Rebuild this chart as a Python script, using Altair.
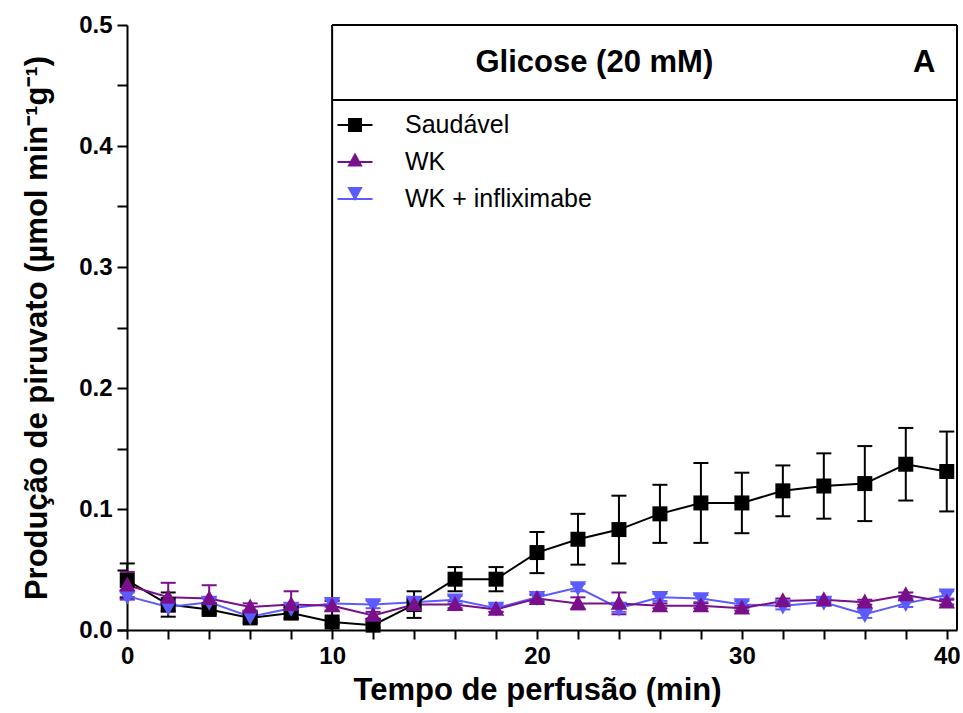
import altair as alt
import pandas as pd

# ---------------- data ----------------
times = list(range(0, 41, 2))
series_names = ["Saudável", "WK", "WK + infliximabe"]
series_colors = ["#000000", "#7a0f8c", "#5b5bff"]
# square, triangle-up, triangle-down (slightly enlarged triangles as custom paths)
series_shapes = ["square",
                 "M0,-1.15L1.1,0.85L-1.1,0.85Z",
                 "M0,1.15L1.1,-0.85L-1.1,-0.85Z"]

saudavel_mean = [0.041, 0.021, 0.017, 0.010, 0.014, 0.0066, 0.004, 0.021, 0.042, 0.042,
                 0.064, 0.075, 0.083, 0.096, 0.105, 0.105, 0.115, 0.119, 0.121, 0.137, 0.131]
saudavel_sem = [0.014, 0.010, 0.004, 0.004, 0.005, 0.002, 0.002, 0.011, 0.010, 0.010,
                0.017, 0.021, 0.028, 0.024, 0.033, 0.025, 0.021, 0.027, 0.031, 0.030, 0.033]

wk_mean = [0.037, 0.027, 0.026, 0.019, 0.021, 0.020, 0.012, 0.021, 0.021, 0.017,
           0.026, 0.022, 0.022, 0.020, 0.020, 0.018, 0.024, 0.025, 0.023, 0.029, 0.023]
wk_sem = [0.011, 0.012, 0.011, 0.003, 0.011, 0.004, 0.003, 0.003, 0.003, 0.002,
          0.003, 0.005, 0.009, 0.002, 0.002, 0.002, 0.002, 0.002, 0.002, 0.002, 0.002]

infl_mean = [0.028, 0.019, 0.023, 0.011, 0.018, 0.022, 0.021, 0.023, 0.025, 0.018,
             0.027, 0.035, 0.018, 0.027, 0.026, 0.021, 0.020, 0.023, 0.013, 0.022, 0.029]
infl_sem = [0.003, 0.003, 0.003, 0.003, 0.003, 0.003, 0.003, 0.003, 0.003, 0.003,
            0.003, 0.003, 0.003, 0.003, 0.003, 0.003, 0.003, 0.003, 0.003, 0.003, 0.003]

title_text = "Glicose (20 mM)"
panel_letter = "A"

# drawing order: black first, blue, purple on top
rows = []
for name, means, sems in [("Saudável", saudavel_mean, saudavel_sem),
                          ("WK + infliximabe", infl_mean, infl_sem),
                          ("WK", wk_mean, wk_sem)]:
    for t, m, s in zip(times, means, sems):
        rows.append({"series": name, "t": t, "mean": m, "lo": m - s, "hi": m + s})
df = pd.DataFrame(rows)

# ---------------- layout constants ----------------
X_MIN, X_MAX = -0.5, 40.5
BOX_X0 = 10
HEADER_Y = 0.438
FONT = "Liberation Sans"

x_scale = alt.Scale(domain=[X_MIN, X_MAX], nice=False, zero=False)
y_scale = alt.Scale(domain=[0, 0.5], nice=False)

x_axis = alt.Axis(
    values=times, format="d",
    labelExpr="datum.value % 10 == 0 ? datum.label : ''",
    title="Tempo de perfusão (min)", grid=False,
    tickSize=9, labelPadding=5, titlePadding=7, labelOverlap=False,
)
y_axis = alt.Axis(
    values=[i * 0.05 for i in range(11)], format=".1f",
    labelExpr="abs(datum.value*10 - round(datum.value*10)) < 0.001 ? datum.label : ''",
    title="Produção de piruvato (µmol min⁻¹g⁻¹)", grid=False,
    tickSize=10, labelPadding=5, titlePadding=25, offset=-10, labelOverlap=False,
)

X = alt.X("t:Q", scale=x_scale, axis=x_axis)
Y = alt.Y("mean:Q", scale=y_scale, axis=y_axis)

color_scale = alt.Scale(domain=series_names, range=series_colors)
shape_scale = alt.Scale(domain=series_names, range=series_shapes)

# box structure
box_df = pd.DataFrame({
    "x": [BOX_X0, BOX_X0, BOX_X0, X_MAX],
    "x2": [BOX_X0, X_MAX, X_MAX, X_MAX],
    "y": [0, 0.5, HEADER_Y, 0],
    "y2": [0.5, 0.5, HEADER_Y, 0.5],
})
box = alt.Chart(box_df).mark_rule(color="black", strokeWidth=2).encode(
    x=alt.X("x:Q", scale=x_scale, axis=x_axis), x2="x2:Q",
    y=alt.Y("y:Q", scale=y_scale, axis=y_axis), y2="y2:Q",
)

base = alt.Chart(df)

err_rule = base.mark_rule(strokeWidth=2, opacity=1).encode(
    x=X, y=alt.Y("lo:Q", scale=y_scale, axis=y_axis), y2="hi:Q",
    color=alt.Color("series:N", scale=color_scale, legend=None),
)
cap_lo = base.mark_tick(orient="horizontal", size=15, thickness=2, opacity=1).encode(
    x=X, y=alt.Y("lo:Q", scale=y_scale, axis=y_axis),
    color=alt.Color("series:N", scale=color_scale, legend=None),
)
cap_hi = base.mark_tick(orient="horizontal", size=15, thickness=2, opacity=1).encode(
    x=X, y=alt.Y("hi:Q", scale=y_scale, axis=y_axis),
    color=alt.Color("series:N", scale=color_scale, legend=None),
)

line_legend = alt.Legend(
    orient="none", legendX=219.5, legendY=81.5, padding=0,
    symbolType="stroke", symbolSize=1225, symbolStrokeWidth=2,
    labelFontSize=25, labelOffset=31.5, rowPadding=5, labelColor="black",
    labelLimit=0,
)
point_legend = alt.Legend(
    orient="none", legendX=231, legendY=93, padding=0,
    symbolSize=196, symbolStrokeWidth=0,
    labelExpr="''", labelFontSize=1, labelOffset=0, rowPadding=19.5,
)

lines = base.mark_line(strokeWidth=2).encode(
    x=X, y=Y,
    stroke=alt.Stroke("series:N", scale=color_scale, legend=line_legend, title=None),
)
points = base.mark_point(filled=True, size=225, opacity=1, strokeWidth=0).encode(
    x=X, y=Y,
    fill=alt.Fill("series:N", scale=color_scale, legend=point_legend, title=None),
    shape=alt.Shape("series:N", scale=shape_scale, legend=point_legend, title=None),
)

ann_df = pd.DataFrame({"x": [22.8, 38.9], "y": [0.469, 0.469], "label": [title_text, panel_letter]})
ann = alt.Chart(ann_df).mark_text(
    font=FONT, fontSize=31, fontWeight="bold", color="black", baseline="middle", align="center"
).encode(
    x=alt.X("x:Q", scale=x_scale, axis=x_axis),
    y=alt.Y("y:Q", scale=y_scale, axis=y_axis),
    text="label:N",
)

chart = alt.layer(box, err_rule, cap_lo, cap_hi, lines, points, ann).resolve_legend(
    stroke="independent", fill="independent", shape="independent"
).properties(
    width=840, height=605,
    padding={"left": 117, "top": 25, "right": 6, "bottom": 83},
    autosize=alt.AutoSizeParams(type="none"),
    background="white",
).configure_view(stroke=None).configure_axis(
    labelFont=FONT, titleFont=FONT,
    labelFontSize=24, labelFontWeight="bold", labelColor="black",
    titleFontSize=31, titleFontWeight="bold", titleColor="black",
    domainColor="black", domainWidth=2, tickColor="black", tickWidth=2,
).configure_legend(labelFont=FONT)

chart.save("out.html", embed_options={"renderer": "svg", "actions": False})
